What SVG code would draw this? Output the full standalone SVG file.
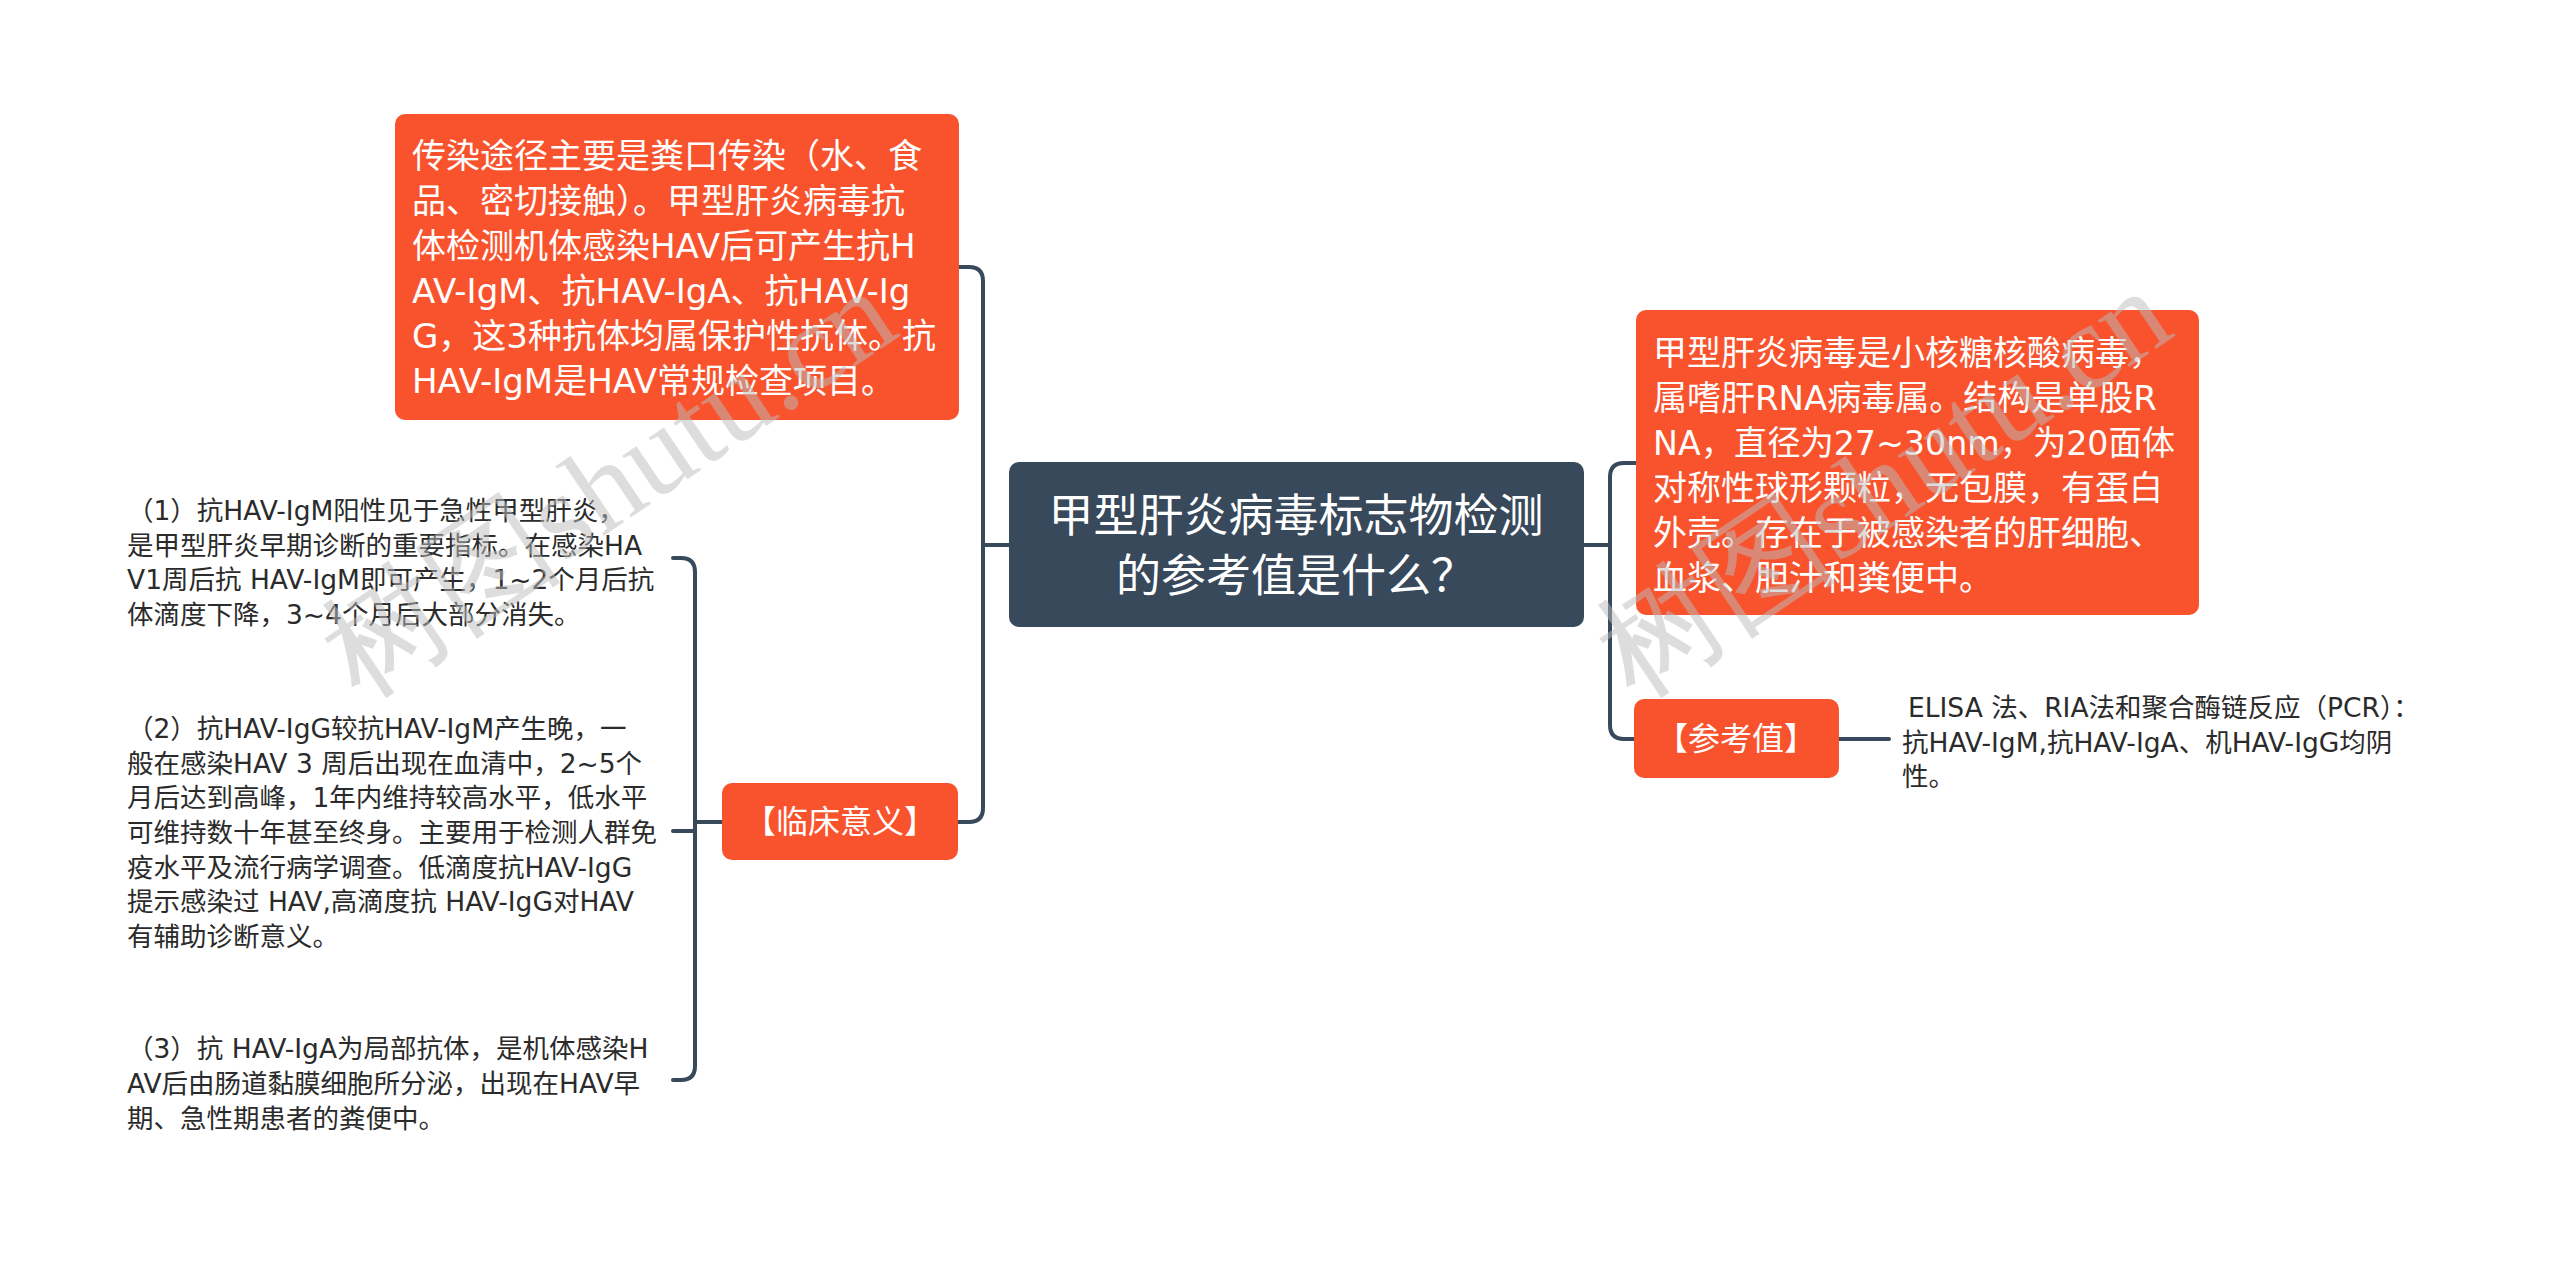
<svg xmlns="http://www.w3.org/2000/svg" width="2560" height="1263" viewBox="0 0 2560 1263">
<style>
text{font-family:"DejaVu Sans","Noto Sans CJK SC",sans-serif;}
.orange{fill:#F9532E;}
.dark{fill:#37495A;}
.wt{fill:#ffffff;}
.big{font-size:34px;}
.item{font-size:26.5px;fill:#2b2b2b;}
.lbl{font-size:32px;fill:#ffffff;text-anchor:middle;}
.conn{fill:none;stroke:#37495A;stroke-width:4;stroke-linecap:round;}
.wm{font-family:"Liberation Serif",serif;font-size:122px;fill:#bdbdbd;opacity:0.5;}
</style>
<rect width="2560" height="1263" fill="#ffffff"/>
<g id="connectors">
<path class="conn" d="M959 267 H969 Q983 267 983 281 V808 Q983 822 969 822 H958"/>
<path class="conn" d="M983 545 H1009"/>
<path class="conn" d="M1584 545 H1610"/>
<path class="conn" d="M1636 463 H1624 Q1610 463 1610 477 V725 Q1610 739 1624 739 H1634"/>
<path class="conn" d="M1839 739 H1889"/>
<path class="conn" d="M673 558 H681 Q695 558 695 572 V1066 Q695 1080 681 1080 H673"/>
<path class="conn" d="M722 822 H695"/>
<path class="conn" d="M695 831 H673"/>
</g>
<g id="center">
<rect class="dark" x="1009" y="462" width="575" height="165" rx="10"/>
<text x="1296" y="532" font-size="45" fill="#fff" text-anchor="middle">甲型肝炎病毒标志物检测</text>
<text x="1296" y="592" font-size="45" fill="#fff" text-anchor="middle">的参考值是什么？</text>
</g>
<g id="node-transmission">
<rect class="orange" x="395" y="114" width="564" height="306" rx="10"/>
<text class="wt big" x="412" y="168">传染途径主要是粪口传染（水、食</text>
<text class="wt big" x="412" y="213">品、密切接触）。甲型肝炎病毒抗</text>
<text class="wt big" x="412" y="258">体检测机体感染HAV后可产生抗H</text>
<text class="wt big" x="412" y="303">AV-IgM、抗HAV-IgA、抗HAV-Ig</text>
<text class="wt big" x="412" y="348">G，这3种抗体均属保护性抗体。抗</text>
<text class="wt big" x="412" y="393">HAV-IgM是HAV常规检查项目。</text>
</g>
<g id="node-clinical">
<rect class="orange" x="722" y="783" width="236" height="77" rx="10"/>
<text class="lbl" x="840" y="833">【临床意义】</text>
</g>
<g id="item-1">
<text class="item" x="127" y="520">（1）抗HAV-IgM阳性见于急性甲型肝炎，</text>
<text class="item" x="127" y="555">是甲型肝炎早期诊断的重要指标。在感染HA</text>
<text class="item" x="127" y="589">V1周后抗 HAV-IgM即可产生，1~2个月后抗</text>
<text class="item" x="127" y="624">体滴度下降，3~4个月后大部分消失。</text>
</g>
<g id="item-2">
<text class="item" x="127" y="738">（2）抗HAV-IgG较抗HAV-IgM产生晚，一</text>
<text class="item" x="127" y="773">般在感染HAV 3 周后出现在血清中，2~5个</text>
<text class="item" x="127" y="807">月后达到高峰，1年内维持较高水平，低水平</text>
<text class="item" x="127" y="842">可维持数十年甚至终身。主要用于检测人群免</text>
<text class="item" x="127" y="877">疫水平及流行病学调查。低滴度抗HAV-IgG</text>
<text class="item" x="127" y="911">提示感染过 HAV,高滴度抗 HAV-IgG对HAV</text>
<text class="item" x="127" y="946">有辅助诊断意义。</text>
</g>
<g id="item-3">
<text class="item" x="127" y="1058">（3）抗 HAV-IgA为局部抗体，是机体感染H</text>
<text class="item" x="127" y="1093">AV后由肠道黏膜细胞所分泌，出现在HAV早</text>
<text class="item" x="127" y="1128">期、急性期患者的粪便中。</text>
</g>
<g id="node-structure">
<rect class="orange" x="1636" y="310" width="563" height="305" rx="10"/>
<text class="wt big" x="1653" y="365">甲型肝炎病毒是小核糖核酸病毒，</text>
<text class="wt big" x="1653" y="410">属嗜肝RNA病毒属。结构是单股R</text>
<text class="wt big" x="1653" y="455" textLength="522" lengthAdjust="spacingAndGlyphs">NA，直径为27~30nm，为20面体</text>
<text class="wt big" x="1653" y="500">对称性球形颗粒，无包膜，有蛋白</text>
<text class="wt big" x="1653" y="545">外壳。存在于被感染者的肝细胞、</text>
<text class="wt big" x="1653" y="590">血浆、胆汁和粪便中。</text>
</g>
<g id="node-reference">
<rect class="orange" x="1634" y="699" width="205" height="79" rx="10"/>
<text class="lbl" x="1736" y="750">【参考值】</text>
</g>
<g id="reference-text">
<text class="item" x="1908" y="717">ELISA 法、RIA法和聚合酶链反应（PCR）：</text>
<text class="item" x="1902" y="752">抗HAV-IgM,抗HAV-IgA、机HAV-IgG均阴</text>
<text class="item" x="1902" y="786">性。</text>
</g>
<g id="watermarks">
<text class="wm" transform="translate(360 700) rotate(-34)">树图shutu.cn</text>
<text class="wm" transform="translate(1635 700) rotate(-34)">树图shutu.cn</text>
</g>
</svg>
